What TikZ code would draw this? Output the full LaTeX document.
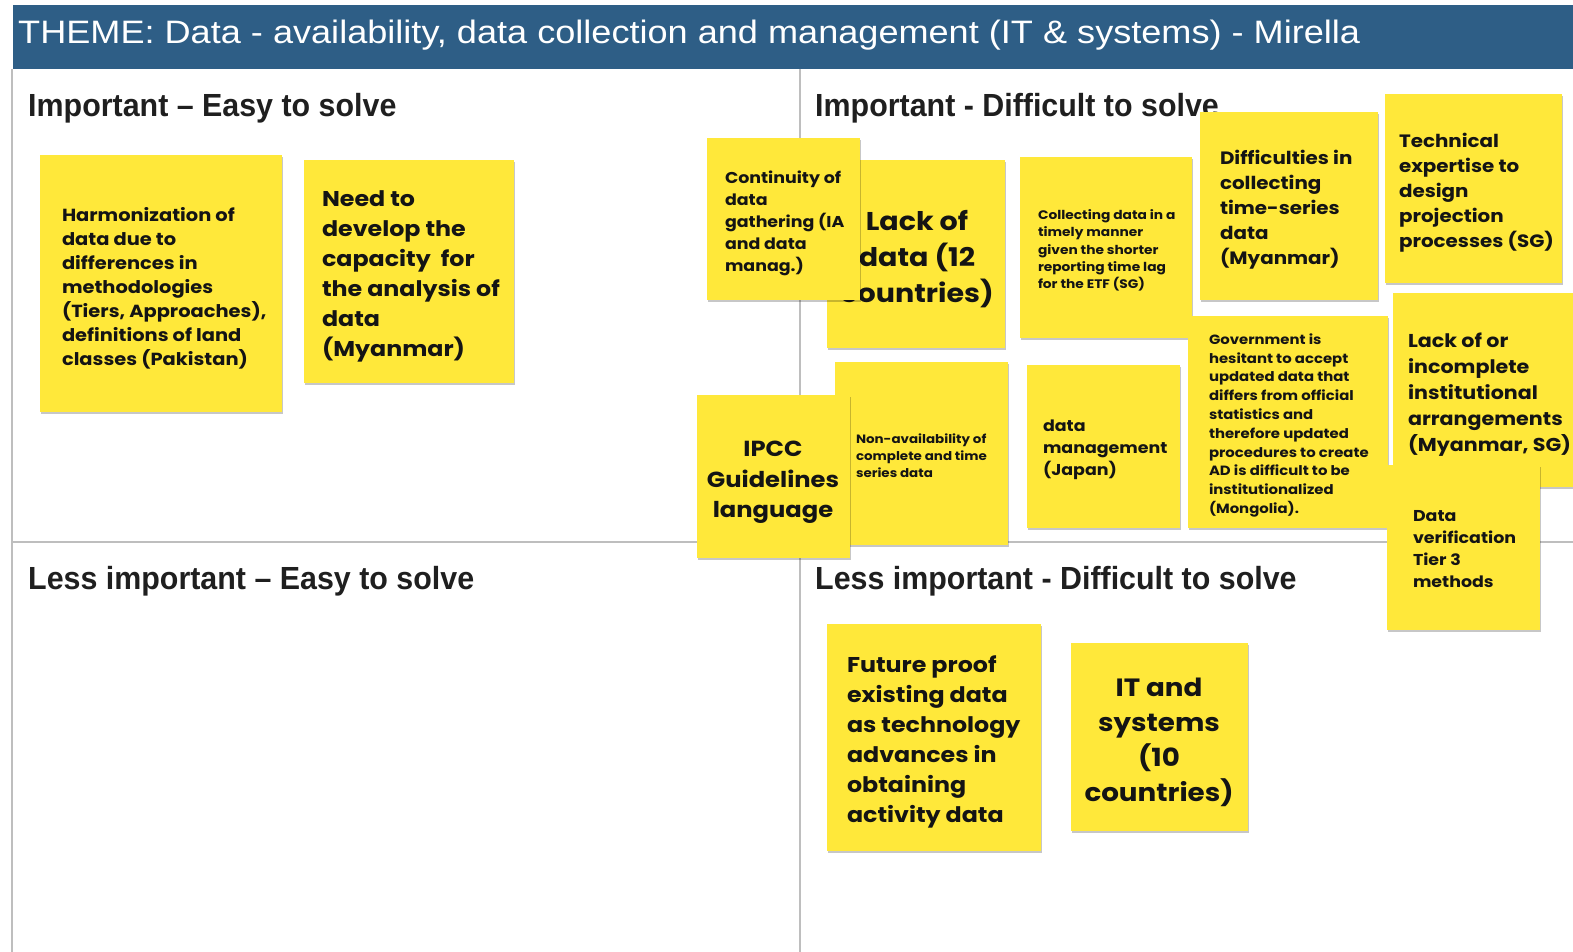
\documentclass[tikz,border=0pt]{standalone}
\usepackage{fontspec}
\setmainfont{Liberation Sans}
\newfontfamily\notefont[FakeStretch=1.11]{Poppins}
\newfontfamily\headfont[FakeStretch=0.95]{Liberation Sans}
\newfontfamily\titlefont{Liberation Sans}
\usetikzlibrary{shadows}
\definecolor{titleblue}{RGB}{46,94,134}
\definecolor{stickyyellow}{RGB}{255,232,58}
\definecolor{gridgray}{RGB}{190,190,190}
\newcommand{\stickyat}[5]{\node[notebox, minimum width={#4-#2}, minimum height={#5-#3}] (#1) at (#2,#3) {};}
\newcommand{\nf}[2]{\notefont\bfseries\fontsize{#1}{#2}\selectfont}
\tikzset{
  notebox/.style={fill=stickyyellow, draw=none, inner sep=0pt, outer sep=0pt, anchor=north west,
    drop shadow={shadow xshift=0.6pt, shadow yshift=-1.8pt, opacity=0.22, fill=black}},
  notetext/.style={inner sep=0pt, outer sep=0pt, anchor=north west, align=left, text=black!92},
  notecenter/.style={inner sep=0pt, outer sep=0pt, anchor=north, align=center, text=black!92},
  quadhead/.style={inner sep=0pt, anchor=base west, text=black!88, font=\headfont\bfseries\fontsize{32}{36}\selectfont},
  gridline/.style={draw=gridgray, line width=1.6pt}
}
\begin{document}
\begin{tikzpicture}[x=1pt,y=-1pt]
\useasboundingbox (0,0) rectangle (1573,952);
\fill[white] (0,0) rectangle (1573,952);
% title bar
\fill[titleblue] (13,5) rectangle (1573,69);
\node[inner sep=0pt, anchor=base west, text=white] (title) at (18,43.5)
  {\resizebox{1342pt}{23.5pt}{\titlefont\fontsize{32}{36}\selectfont THEME: Data - availability, data collection and management (IT \& systems) - Mirella}};
% grid
\coordinate (leftTop) at (12,69);
\coordinate (leftBot) at (12,952);
\coordinate (midTop) at (800,69);
\coordinate (midBot) at (800,952);
\coordinate (hLeft) at (12,542);
\coordinate (hRight) at (1573,542);
\draw[gridline] (leftTop) -- (leftBot);
\draw[gridline] (midTop) -- (midBot);
\draw[gridline] (hLeft) -- (hRight);
% quadrant headings
\node[quadhead] (qIE) at (28,117) {Important – Easy to solve};
\node[quadhead] (qID) at (815,117) {Important - Difficult to solve};
\node[quadhead] (qLE) at (28,589) {Less important – Easy to solve};
\node[quadhead] (qLD) at (815,589) {Less important - Difficult to solve};
% notes: important - easy
\stickyat{harm}{40}{155}{282}{412}
\node[notetext, font=\nf{17.5}{24}] (harmT) at (62,207.2) {Harmonization of\\data due to\\differences in\\methodologies\\(Tiers, Approaches),\\definitions of land\\classes (Pakistan)};
\stickyat{need}{304}{160}{514}{383}
\node[notetext, font=\nf{21.4}{30}] (needT) at (322,190.9) {Need to\\develop the\\capacity\ \ for\\the analysis of\\data\\(Myanmar)};
% important - difficult
\stickyat{lack}{827}{160}{1005}{348}
\node[notecenter, font=\nf{25.7}{36}] (lackT) at (917,210.5) {Lack of\\data (12\\countries)};
\stickyat{cont}{707}{138}{860}{300}
\node[notetext, font=\nf{15.7}{22}] (contT) at (725,170.8) {Continuity of\\data\\gathering (IA\\and data\\manag.)};
\stickyat{coll}{1020}{157}{1192}{338}
\node[notetext, font=\nf{12.4}{17.3}] (collT) at (1038,209.5) {Collecting data in a\\timely manner\\given the shorter\\reporting time lag\\for the ETF (SG)};
\stickyat{diff}{1200}{112}{1378}{300}
\node[notetext, font=\nf{17.9}{25}] (diffT) at (1220,150.1) {Difficulties in\\collecting\\time-series\\data\\(Myanmar)};
\stickyat{tech}{1385}{94}{1562}{283}
\node[notetext, font=\nf{17.9}{25}] (techT) at (1399,133.1) {Technical\\expertise to\\design\\projection\\processes (SG)};
\stickyat{lackor}{1393}{293}{1580}{487}
\node[notetext, font=\nf{18.6}{26}] (lackorT) at (1408,332.8) {Lack of or\\incomplete\\institutional\\arrangements\\(Myanmar, SG)};
\stickyat{gov}{1188}{316}{1388}{528}
\node[notetext, font=\nf{13.4}{18.8}] (govT) at (1209,333.6) {Government is\\hesitant to accept\\updated data that\\differs from official\\statistics and\\therefore updated\\procedures to create\\AD is difficult to be\\institutionalized\\(Mongolia).};
\stickyat{verif}{1387}{465}{1540}{630}
\node[notetext, font=\nf{15.7}{22}] (verifT) at (1413,510.8) {Data\\verification\\Tier 3\\methods};
\stickyat{nonav}{835}{362}{1008}{545}
\node[notetext, font=\nf{12.1}{17}] (nonavT) at (856,434) {Non-availability of\\complete and time\\series data};
\stickyat{ipcc}{697}{395}{850}{558}
\node[notecenter, font=\nf{21.8}{30.5}] (ipccT) at (773,441.5) {IPCC\\Guidelines\\language};
\stickyat{dmgmt}{1027}{365}{1180}{528}
\node[notetext, font=\nf{15.7}{22}] (dmgmtT) at (1043,419.8) {data\\management\\(Japan)};
% less important - difficult
\stickyat{future}{827}{624}{1041}{851}
\node[notetext, font=\nf{21.4}{30}] (futureT) at (847,655.9) {Future proof\\existing data\\as technology\\advances in\\obtaining\\activity data};
\stickyat{itsys}{1071}{643}{1248}{831}
\node[notecenter, font=\nf{25}{35}] (itsysT) at (1159,678) {IT and\\systems\\(10\\countries)};
\end{tikzpicture}
\end{document}
